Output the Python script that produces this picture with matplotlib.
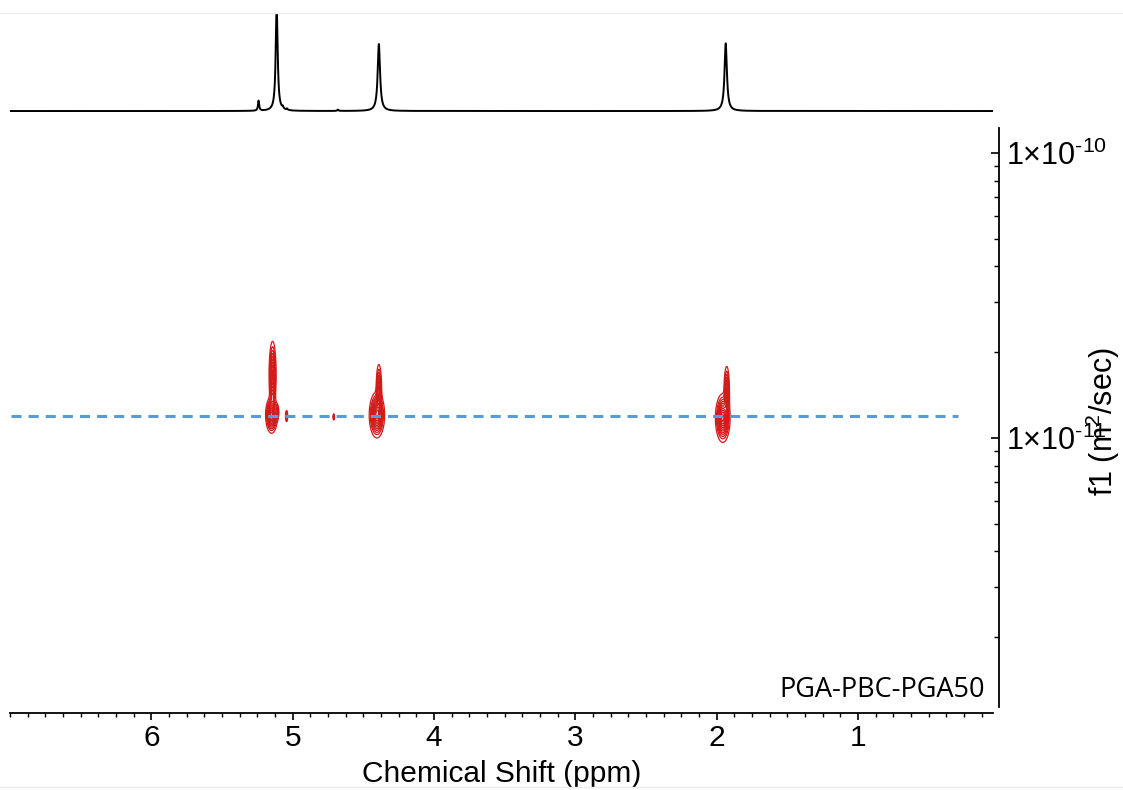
import numpy as np
import matplotlib
matplotlib.use("Agg")
import matplotlib.pyplot as plt
from matplotlib.ticker import FixedLocator, MultipleLocator, NullFormatter, FuncFormatter
from matplotlib.lines import Line2D

plt.rcParams['font.family'] = ['Liberation Sans', 'DejaVu Sans']
plt.rcParams['mathtext.fontset'] = 'custom'
plt.rcParams['mathtext.rm'] = 'Liberation Sans'
plt.rcParams['mathtext.it'] = 'Liberation Sans'

# ---- 1D spectrum (top trace): peak positions (ppm), heights, widths (ppm FWHM)
spec_ppm = [5.113, 5.241, 5.07, 5.04, 4.68, 4.390, 1.936]
spec_height = [1.60, 0.15, 0.03, 0.02, 0.02, 1.00, 1.01]
spec_fwhm = [0.016, 0.010, 0.010, 0.010, 0.010, 0.020, 0.020]

# ---- DOSY cross peaks: ppm, log10(D), sigma_ppm, sigma_logD, amplitude
dosy_ppm = [5.142, 5.149, 5.113, 5.043, 4.709, 4.404, 4.390, 1.957, 1.929]
dosy_logd = [-10.779, -10.919, -10.909, -10.923, -10.926, -10.919, -10.832, -10.930, -10.839]
dosy_sx = [0.011, 0.018, 0.007, 0.004, 0.003, 0.023, 0.009, 0.022, 0.009]
dosy_sy = [0.052, 0.027, 0.013, 0.010, 0.006, 0.034, 0.042, 0.036, 0.042]
dosy_amp = [0.8, 1.0, 0.5, 0.4, 0.3, 1.0, 0.6, 1.0, 0.6]

# diffusion coefficient of the dashed guide line (m^2/s) and its ppm span
guide_D = 1.19e-11
guide_span = [6.99, 0.29]

xticks = [1, 2, 3, 4, 5, 6]
xlim = (7.0, 0.045)
ylim = (10 ** -11.965, 10 ** -9.912)
spine_low = 10 ** -11.944
sample_label = "PGA-PBC-PGA50"

W, H = 1123, 790
fig = plt.figure(figsize=(W / 100, H / 100), dpi=100)

# faint screenshot separator lines
fig.add_artist(Line2D([0, 1], [1 - 13 / H, 1 - 13 / H], color='#ebebeb', lw=1.0))
fig.add_artist(Line2D([0, 1], [1 - 787 / H, 1 - 787 / H], color='#ebebeb', lw=1.0))

# ---- main DOSY axes
ax = fig.add_axes([10 / W, (H - 713) / H, 983 / W, 585 / H])
ppm = np.linspace(0.04, 7.0, 3481)
logd = np.linspace(-11.97, -9.91, 516)
PP, LL = np.meshgrid(ppm, logd)
Z = np.zeros_like(PP)
for p, l, sx, sy, a in zip(dosy_ppm, dosy_logd, dosy_sx, dosy_sy, dosy_amp):
    Z += a * np.exp(-0.5 * (((PP - p) / sx) ** 2 + ((LL - l) / sy) ** 2))
ax.contour(PP, 10 ** LL, Z,
           levels=[0.06, 0.13, 0.2, 0.28, 0.36, 0.45, 0.55, 0.65, 0.75, 0.85, 0.95],
           colors='#d41a1a', linewidths=0.9, zorder=2)
ax.plot(guide_span, [guide_D, guide_D], color='#5b9bd5', lw=2.2,
        dashes=(3.3, 2.3), zorder=3)

ax.set_yscale('log')
ax.set_xlim(*xlim)
ax.set_ylim(*ylim)

for s in ['top', 'left']:
    ax.spines[s].set_visible(False)
ax.spines['right'].set_position(('outward', 4.3))
ax.spines['right'].set_bounds(spine_low, ylim[1])
ax.spines['right'].set_linewidth(1.3)
ax.spines['bottom'].set_linewidth(1.3)

ax.yaxis.tick_right()
ax.yaxis.set_major_locator(FixedLocator([1e-10, 1e-11]))
ax.yaxis.set_major_formatter(FuncFormatter(
    lambda v, pos: r'$\mathregular{1{\times}10^{\text{-}%d}}$' % abs(int(round(np.log10(v))))))
ax.yaxis.set_minor_formatter(NullFormatter())
ax.tick_params(axis='y', which='major', direction='in', length=6, width=1.2,
               labelsize=22, pad=5)
ax.tick_params(axis='y', which='minor', direction='in', length=3.5, width=1.0)

ax.xaxis.set_major_locator(FixedLocator(xticks))
ax.xaxis.set_minor_locator(MultipleLocator(0.125))
ax.xaxis.set_major_formatter(FuncFormatter(lambda v, pos: '%d' % round(v)))
ax.tick_params(axis='x', which='major', direction='out', length=5, width=1.2,
               labelsize=21.5, pad=3)
ax.tick_params(axis='x', which='minor', direction='out', length=3, width=1.0)

ax.set_xlabel('Chemical Shift (ppm)', fontsize=21.5, labelpad=6)
fig.text(1103 / W, 1 - 422 / H, r'f1 (m$^{2}$/sec)', fontsize=22, rotation=90,
         ha='center', va='center')

ax.text(0.992, 0.027, sample_label, transform=ax.transAxes, ha='right', va='baseline',
        fontsize=19.5, family=['Open Sans', 'DejaVu Sans'])

# ---- top 1D spectrum
axt = fig.add_axes([10 / W, (H - 118) / H, 983 / W, 105 / H])
x1 = np.linspace(0.045, 7.0, 20000)
y1 = np.zeros_like(x1)
for c, h, w in zip(spec_ppm, spec_height, spec_fwhm):
    g = w / 2
    y1 += h * g ** 2 / ((x1 - c) ** 2 + g ** 2)
axt.plot(x1, y1, color='black', lw=1.4)
axt.set_xlim(*xlim)
axt.set_ylim(-0.104, 1.463)
axt.axis('off')

fig.savefig('out.png', dpi=100)
